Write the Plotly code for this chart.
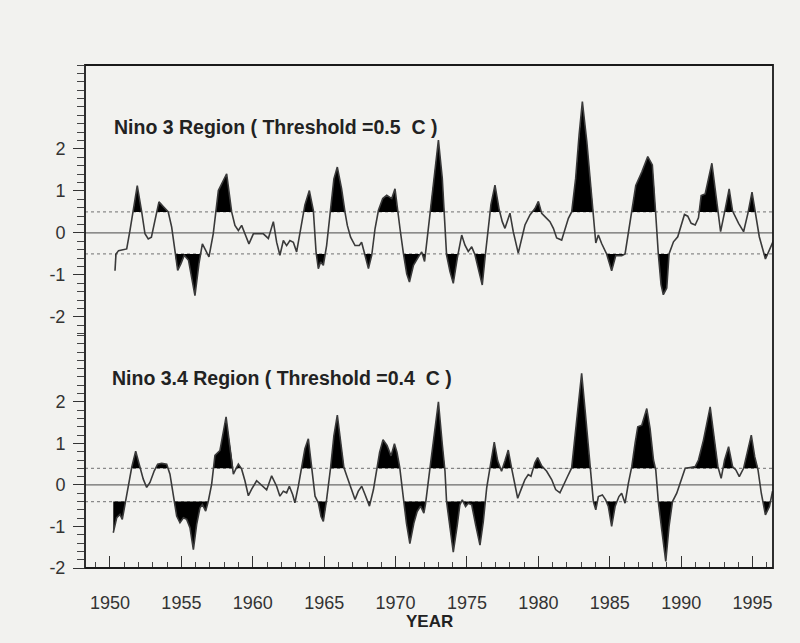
import plotly.graph_objects as go

# ---------------- data ----------------
years_n3 = [1950.35, 1950.42, 1950.6, 1950.93, 1951.17, 1951.4, 1951.63, 1951.91, 1952.22, 1952.45,
            1952.68, 1952.9, 1953.15, 1953.43, 1953.73, 1954.08, 1954.32, 1954.55, 1954.74, 1954.97,
            1955.2, 1955.5, 1955.95, 1956.23, 1956.47, 1956.65, 1956.93, 1957.23, 1957.59, 1957.82,
            1958.17, 1958.52, 1958.75, 1958.99, 1959.22, 1959.45, 1959.73, 1960.04, 1960.39, 1960.74,
            1961.09, 1961.44, 1961.67, 1961.9, 1962.14, 1962.37, 1962.6, 1962.84, 1963.07, 1963.42,
            1963.65, 1963.96, 1964.24, 1964.43, 1964.59, 1964.75, 1964.94, 1965.17, 1965.45, 1965.68,
            1965.92, 1966.22, 1966.46, 1966.62, 1966.85, 1967.16, 1967.46, 1967.62, 1967.86, 1968.1,
            1968.33, 1968.56, 1968.8, 1969.1, 1969.38, 1969.73, 1969.96, 1970.12, 1970.31, 1970.55,
            1970.78, 1970.97, 1971.25, 1971.6, 1971.83, 1972.03, 1972.41, 1972.71, 1973.0, 1973.27,
            1973.41, 1973.57, 1973.81, 1974.04, 1974.32, 1974.63, 1974.86, 1975.09, 1975.33, 1975.56,
            1975.84, 1976.07, 1976.26, 1976.49, 1976.68, 1976.96, 1977.24, 1977.47, 1977.66, 1978.01,
            1978.24, 1978.59, 1978.82, 1979.06, 1979.41, 1979.76, 1980.0, 1980.23, 1980.46, 1980.81,
            1981.05, 1981.28, 1981.63, 1981.86, 1982.1, 1982.33, 1982.61, 1982.85, 1983.08, 1983.39,
            1983.67, 1983.85, 1984.02, 1984.2, 1984.43, 1984.78, 1985.13, 1985.42, 1985.84, 1986.07,
            1986.3, 1986.54, 1986.82, 1987.24, 1987.66, 1987.98, 1988.12, 1988.21, 1988.4, 1988.59,
            1988.75, 1988.99, 1989.15, 1989.46, 1989.76, 1989.99, 1990.23, 1990.46, 1990.7, 1990.98,
            1991.21, 1991.4, 1991.68, 1992.15, 1992.38, 1992.57, 1992.76, 1993.08, 1993.36, 1993.6,
            1994.02, 1994.37, 1994.68, 1994.96, 1995.19, 1995.47, 1995.9, 1996.24, 1996.48]
nino3 = [-0.90, -0.50, -0.42, -0.40, -0.38, 0.06, 0.50, 1.13, 0.50, -0.02,
         -0.14, -0.10, 0.30, 0.74, 0.63, 0.50, 0.14, -0.50, -0.89, -0.73,
         -0.53, -0.65, -1.49, -0.73, -0.26, -0.38, -0.57, -0.02, 1.01, 1.17,
         1.41, 0.50, 0.18, 0.06, 0.18, -0.02, -0.26, -0.02, -0.02, -0.02,
         -0.13, 0.27, -0.22, -0.53, -0.18, -0.30, -0.18, -0.22, -0.45, 0.18,
         0.67, 1.01, 0.54, -0.45, -0.85, -0.69, -0.77, -0.30, 0.54, 1.29,
         1.57, 1.05, 0.49, 0.18, -0.10, -0.30, -0.30, -0.22, -0.53, -0.85,
         -0.53, 0.10, 0.54, 0.82, 0.90, 0.82, 1.05, 0.54, 0.10, -0.49,
         -0.97, -1.17, -0.77, -0.57, -0.45, -0.68, 0.50, 1.38, 2.21, 1.30,
         0.50, -0.52, -0.92, -1.20, -0.60, -0.05, -0.29, -0.44, -0.33, -0.52,
         -0.92, -1.24, -0.60, 0.19, 0.68, 1.14, 0.58, 0.27, 0.11, 0.47,
         0.03, -0.48, -0.12, 0.19, 0.43, 0.58, 0.75, 0.47, 0.39, 0.27,
         0.11, -0.12, -0.17, 0.11, 0.35, 0.50, 1.30, 2.33, 3.13, 2.18,
         1.14, 0.50, -0.24, -0.05, -0.25, -0.50, -0.90, -0.54, -0.54, -0.50,
         0.00, 0.48, 1.13, 1.45, 1.82, 1.62, 1.05, 0.48, -0.50, -1.23,
         -1.47, -1.31, -0.50, -0.21, -0.09, 0.15, 0.44, 0.40, 0.23, 0.19,
         0.36, 0.89, 0.93, 1.66, 1.05, 0.50, 0.03, 0.56, 1.05, 0.52,
         0.23, 0.03, 0.48, 0.97, 0.48, -0.09, -0.62, -0.33, -0.17]

years_n34 = [1950.23, 1950.47, 1950.7, 1950.86, 1951.1, 1951.28, 1951.52, 1951.8, 1952.1, 1952.33,
             1952.57, 1952.8, 1953.1, 1953.34, 1953.62, 1953.97, 1954.2, 1954.44, 1954.67, 1954.9,
             1955.14, 1955.37, 1955.6, 1955.84, 1956.07, 1956.3, 1956.47, 1956.7, 1956.89, 1957.12,
             1957.35, 1957.7, 1958.13, 1958.4, 1958.64, 1958.75, 1958.99, 1959.22, 1959.45, 1959.69,
             1959.92, 1960.27, 1960.62, 1960.97, 1961.32, 1961.67, 1961.9, 1962.14, 1962.37, 1962.56,
             1962.79, 1962.95, 1963.19, 1963.42, 1963.65, 1963.89, 1964.12, 1964.36, 1964.59, 1964.78,
             1964.94, 1965.17, 1965.45, 1965.68, 1965.92, 1966.15, 1966.38, 1966.62, 1966.85, 1967.16,
             1967.39, 1967.63, 1967.86, 1968.17, 1968.45, 1968.69, 1968.88, 1969.12, 1969.4, 1969.68,
             1969.92, 1970.1, 1970.29, 1970.53, 1970.76, 1971.0, 1971.28, 1971.51, 1971.75, 1971.98,
             1972.1, 1972.41, 1972.71, 1973.0, 1973.27, 1973.46, 1973.57, 1973.81, 1974.04, 1974.32,
             1974.5, 1974.67, 1974.9, 1975.09, 1975.33, 1975.61, 1975.91, 1976.14, 1976.38, 1976.61,
             1976.91, 1977.15, 1977.42, 1977.66, 1977.89, 1978.12, 1978.36, 1978.55, 1978.83, 1979.06,
             1979.29, 1979.48, 1979.76, 1979.95, 1980.23, 1980.58, 1980.93, 1981.21, 1981.51, 1981.75,
             1982.05, 1982.33, 1982.61, 1982.85, 1983.03, 1983.27, 1983.5, 1983.62, 1983.85, 1984.02,
             1984.2, 1984.48, 1984.71, 1984.9, 1985.13, 1985.37, 1985.64, 1985.83, 1986.07, 1986.3,
             1986.54, 1986.77, 1986.96, 1987.24, 1987.59, 1987.82, 1988.06, 1988.22, 1988.4, 1988.64,
             1988.92, 1989.15, 1989.39, 1989.69, 1989.99, 1990.28, 1990.63, 1990.98, 1991.21, 1991.56,
             1992.03, 1992.38, 1992.57, 1992.8, 1993.04, 1993.32, 1993.6, 1993.83, 1994.07, 1994.37,
             1994.68, 1994.91, 1995.15, 1995.38, 1995.61, 1995.9, 1996.18, 1996.4]
nino34 = [-1.15, -0.79, -0.71, -0.83, -0.38, -0.06, 0.42, 0.81, 0.42, 0.14,
          -0.06, 0.06, 0.34, 0.50, 0.52, 0.50, 0.26, -0.30, -0.75, -0.91,
          -0.79, -0.83, -1.03, -1.56, -0.95, -0.55, -0.47, -0.63, -0.38, 0.02,
          0.71, 0.83, 1.64, 0.91, 0.26, 0.34, 0.50, 0.38, 0.10, -0.26,
          -0.10, 0.10, -0.02, -0.12, 0.22, -0.03, -0.27, -0.15, -0.19, -0.03,
          -0.23, -0.43, -0.03, 0.42, 0.87, 1.11, 0.42, -0.27, -0.43, -0.76,
          -0.88, -0.35, 0.42, 1.19, 1.68, 1.03, 0.42, 0.18, -0.07, -0.35,
          -0.15, -0.03, -0.23, -0.51, -0.11, 0.38, 0.78, 1.09, 0.95, 0.70,
          0.99, 0.78, 0.42, -0.27, -0.92, -1.41, -0.92, -0.64, -0.51, -0.68,
          -0.45, 0.41, 1.23, 2.00, 0.98, 0.33, -0.40, -1.05, -1.62, -0.97,
          -0.48, -0.36, -0.52, -0.44, -0.48, -0.97, -1.45, -0.89, -0.07, 0.41,
          1.03, 0.58, 0.33, 0.58, 0.84, 0.41, 0.01, -0.32, -0.07, 0.13,
          0.25, 0.21, 0.54, 0.66, 0.46, 0.33, 0.13, -0.11, -0.19, -0.03,
          0.21, 0.41, 1.31, 2.04, 2.69, 1.80, 0.90, 0.41, -0.40, -0.60,
          -0.28, -0.24, -0.36, -0.52, -1.00, -0.52, -0.28, -0.20, -0.44, 0.04,
          0.44, 1.00, 1.40, 1.44, 1.84, 1.36, 0.60, 0.36, -0.40, -1.08,
          -1.84, -1.00, -0.40, -0.20, 0.12, 0.40, 0.42, 0.44, 0.60, 1.08,
          1.88, 1.00, 0.44, 0.16, 0.60, 0.92, 0.44, 0.36, 0.20, 0.40,
          0.84, 1.20, 0.68, 0.36, -0.20, -0.72, -0.52, -0.15]

thresh_n3 = 0.5
thresh_n34 = 0.4
title_n3 = "Nino 3 Region ( Threshold =0.5\u00a0\u00a0C )"
title_n34 = "Nino 3.4 Region ( Threshold =0.4\u00a0\u00a0C )"
xtick_years = [1950, 1955, 1960, 1965, 1970, 1975, 1980, 1985, 1990, 1995]
ytick_vals = [-2, -1, 0, 1, 2]
ytick_text = ["-2", "-1", "0", "1", "2"]

# ---------------- helpers ----------------
def with_crossings(xs, ys, level):
    ox, oy = [xs[0]], [ys[0]]
    for i in range(1, len(xs)):
        y0, y1 = ys[i - 1], ys[i]
        if (y0 - level) * (y1 - level) < 0:
            f = (level - y0) / (y1 - y0)
            ox.append(xs[i - 1] + f * (xs[i] - xs[i - 1]))
            oy.append(level)
        ox.append(xs[i])
        oy.append(ys[i])
    return ox, oy

BG = "#f2f2ef"
LINE = "#3a3a3a"
FONT = "Liberation Sans, Arial, sans-serif"

fig = go.Figure()

def add_panel(xs, ys, t, yaxis):
    ax, ay = with_crossings(xs, ys, t)
    fig.add_trace(go.Scatter(x=[ax[0], ax[-1]], y=[t, t], mode="lines",
                             line=dict(width=0, color="rgba(0,0,0,0)"),
                             yaxis=yaxis, showlegend=False, hoverinfo="skip"))
    fig.add_trace(go.Scatter(x=ax, y=[max(v, t) for v in ay], mode="lines",
                             line=dict(width=0, color="rgba(0,0,0,0)"),
                             fill="tonexty", fillcolor="#000000",
                             yaxis=yaxis, showlegend=False, hoverinfo="skip"))
    bx, by = with_crossings(xs, ys, -t)
    fig.add_trace(go.Scatter(x=[bx[0], bx[-1]], y=[-t, -t], mode="lines",
                             line=dict(width=0, color="rgba(0,0,0,0)"),
                             yaxis=yaxis, showlegend=False, hoverinfo="skip"))
    fig.add_trace(go.Scatter(x=bx, y=[min(v, -t) for v in by], mode="lines",
                             line=dict(width=0, color="rgba(0,0,0,0)"),
                             fill="tonexty", fillcolor="#000000",
                             yaxis=yaxis, showlegend=False, hoverinfo="skip"))
    fig.add_trace(go.Scatter(x=xs, y=ys, mode="lines",
                             line=dict(width=1.6, color=LINE),
                             yaxis=yaxis, showlegend=False))
    yref = "y" if yaxis == "y" else "y2"
    for lvl, dash, col in [(t, "dot", "#8a8a8a"), (-t, "dot", "#8a8a8a"), (0, "solid", "#6a6a6a")]:
        fig.add_shape(type="line", xref="paper", x0=0, x1=1, yref=yref, y0=lvl, y1=lvl,
                      line=dict(color=col, width=1.2, dash=dash), layer="below")

add_panel(years_n3, nino3, thresh_n3, "y")
add_panel(years_n34, nino34, thresh_n34, "y2")

split = 0.4632
yax_common = dict(tickmode="array", tickvals=ytick_vals, ticktext=ytick_text,
                  ticks="outside", ticklen=11, tickwidth=1.3, tickcolor="#333",
                  minor=dict(dtick=0.2, ticks="outside", ticklen=7, tickwidth=1, tickcolor="#444"),
                  showgrid=False, zeroline=False, showline=False,
                  ticklabelstandoff=4,
                  tickfont=dict(family=FONT, size=18, color="#333"))

fig.update_layout(
    width=800, height=643,
    margin=dict(l=85, r=27, t=65, b=75),
    paper_bgcolor=BG, plot_bgcolor=BG,
    showlegend=False,
    xaxis=dict(range=[1948.25, 1996.43], anchor="y2", tickmode="array", tickvals=xtick_years,
               ticks="inside", ticklen=12, tickwidth=1.3, tickcolor="#333",
               minor=dict(dtick=1, ticks="inside", ticklen=6, tickwidth=1, tickcolor="#444"),
               showgrid=False, zeroline=False, showline=False,
               ticklabelstandoff=22,
               tickfont=dict(family=FONT, size=18, color="#333")),
    yaxis=dict(domain=[split, 1], range=[-2.43, 4.0], **yax_common),
    yaxis2=dict(domain=[0, split], range=[-2.0, 3.61], **yax_common),
)

fig.add_shape(type="rect", xref="paper", yref="paper", x0=0, x1=1, y0=0, y1=1,
              line=dict(color="#1a1a1a", width=1.8), layer="above")

fig.add_annotation(text="<b>" + title_n3 + "</b>", xref="paper", yref="paper",
                   x=0.039, y=0.877, xanchor="left", yanchor="middle", showarrow=False,
                   font=dict(family=FONT, size=19.5, color="#222"))
fig.add_annotation(text="<b>" + title_n34 + "</b>", xref="paper", yref="paper",
                   x=0.036, y=0.378, xanchor="left", yanchor="middle", showarrow=False,
                   font=dict(family=FONT, size=19.5, color="#222"))
fig.add_annotation(text="<b>YEAR</b>", xref="paper", yref="paper",
                   x=0.5, y=-0.107, xanchor="center", yanchor="middle", showarrow=False,
                   font=dict(family=FONT, size=17, color="#222"))

fig.write_html("out.html")
